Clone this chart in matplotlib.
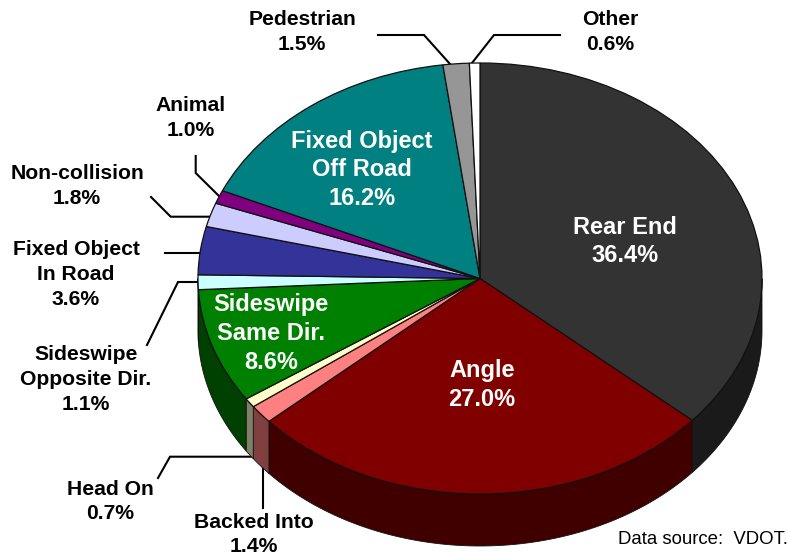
import numpy as np
import matplotlib
matplotlib.use("Agg")
import matplotlib.pyplot as plt
from matplotlib.patches import Polygon

categories = ["Rear End", "Angle", "Backed Into", "Head On", "Sideswipe Same Dir.",
              "Sideswipe Opposite Dir.", "Fixed Object In Road", "Non-collision",
              "Animal", "Fixed Object Off Road", "Pedestrian", "Other"]
values = [36.4, 27.0, 1.4, 0.7, 8.6, 1.1, 3.6, 1.8, 1.0, 16.2, 1.5, 0.6]
top_colors = ["#333333", "#800000", "#FF8080", "#FFFFCC", "#008000", "#CCFFFF",
              "#333399", "#CCCCFF", "#800080", "#008080", "#969696", "#FFFFFF"]
side_colors = ["#1A1A1A", "#400000", "#804040", "#808066", "#004000", "#668080",
               "#1A1A4D", "#666680", "#400040", "#004040", "#4B4B4B", "#808080"]

W, H = 788, 555
CX, CY, RX, RY, DEPTH = 480, 278.5, 282, 215.5, 52

fig = plt.figure(figsize=(W / 100, H / 100), dpi=100, facecolor="white")
ax = fig.add_axes([0, 0, 1, 1])
plt.rcParams["font.family"] = ["Liberation Sans", "DejaVu Sans"]

wedges, _ = ax.pie(values, colors=top_colors, startangle=90, counterclock=False,
                   radius=1, normalize=True,
                   wedgeprops=dict(edgecolor="#111111", linewidth=0.9, zorder=3))
ax.set_aspect("auto")
ax.set_xlim((0 - CX) / RX, (W - CX) / RX)
ax.set_ylim((CY - H) / RY, (CY - 0) / RY)
ax.axis("off")
d = DEPTH / RY

def px(x, y):
    return (x - CX) / RX, (CY - y) / RY

# side wall of the pie: the part of each wedge on the lower half
for w, c in zip(wedges, side_colors):
    t1, t2 = np.mod(w.theta1, 360), np.mod(w.theta2, 360)
    if t2 <= t1:
        t2 += 360
    for lo, hi in ((t1, t2), (t1 + 360, t2 + 360), (t1 - 360, t2 - 360)):
        a, b = max(lo, 180), min(hi, 360)
        if b <= a:
            continue
        th = np.radians(np.linspace(a, b, 80))
        xs, ys = np.cos(th), np.sin(th)
        pts = np.r_[np.c_[xs, ys], np.c_[xs[::-1], ys[::-1] - d]]
        ax.add_patch(Polygon(pts, closed=True, facecolor=c, edgecolor="#111111",
                             linewidth=0.6, zorder=2))

# leader lines
leaders = [
    [(378, 35), (424, 35), (450, 64)],
    [(560, 35), (494, 35), (472, 63)],
    [(195.7, 156), (195.7, 173), (220, 197)],
    [(151, 197), (170.7, 216.7), (210, 216.7)],
    [(165, 253), (200, 253)],
    [(147, 345), (178, 282), (200, 282)],
    [(158, 478), (170, 456.7), (252, 456.7)],
    [(262.7, 468), (262.7, 508)],
]
for pts in leaders:
    xy = np.array([px(*p) for p in pts])
    ax.plot(xy[:, 0], xy[:, 1], color="black", lw=1.5, zorder=1, solid_joinstyle="miter")

def label(x, y, s, color="black", size=15.2, ls=1.37):
    xd, yd = px(x, y)
    ax.text(xd, yd, s, color=color, fontsize=size, fontweight="bold", ha="center",
            va="center", linespacing=ls, zorder=5)

big, bls = 17, 1.32
label(625, 241.5, "Rear End\n36.4%", "white", big, bls)
label(482, 385, "Angle\n27.0%", "white", big, bls)
label(271, 333.5, "Sideswipe\nSame Dir.\n8.6%", "white", big, bls)
label(362, 170, "Fixed Object\nOff Road\n16.2%", "white", big, bls)
label(302, 32, "Pedestrian\n1.5%")
label(610, 32, "Other\n0.6%")
label(191, 118, "Animal\n1.0%")
label(77, 186, "Non-collision\n1.8%")
label(76, 274.5, "Fixed Object\nIn Road\n3.6%")
label(86, 379.5, "Sideswipe\nOpposite Dir.\n1.1%")
label(110, 501.5, "Head On\n0.7%")
label(254, 534.5, "Backed Into\n1.4%")
xd, yd = px(702.5, 540)
ax.text(xd, yd, "Data source:  VDOT.", fontsize=13.4, ha="center", va="center", color="black", zorder=5)

fig.savefig("out.png", dpi=100)
